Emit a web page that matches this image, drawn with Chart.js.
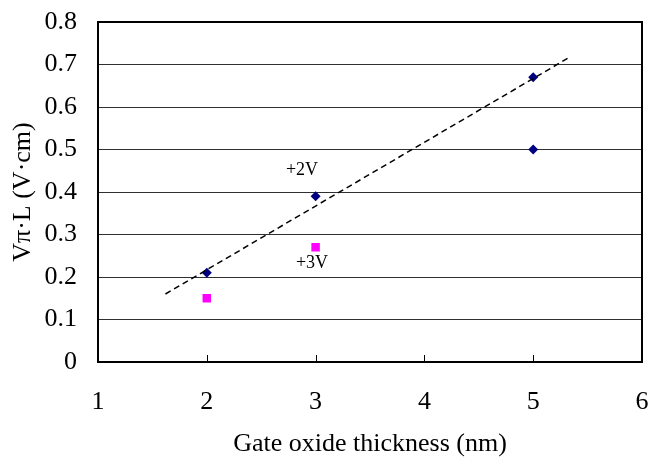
<!DOCTYPE html>
<html><head><meta charset="utf-8">
<script src="https://cdn.jsdelivr.net/npm/chart.js@4.4.1/dist/chart.umd.min.js"></script>
<style>html,body{margin:0;padding:0;background:#fff}#wrap{width:651px;height:457px}</style>
</head><body><div id="wrap"><canvas id="c" width="651" height="457"></canvas></div>
<script>
const thicknessA = [2, 3, 5, 5];
const vpiLA = [0.21, 0.39, 0.67, 0.50];
const thicknessB = [2, 3];
const vpiLB = [0.15, 0.27];
const trendX = [1.62, 5.32];
const trendY = [0.16, 0.715];
const xTicks = [1, 2, 3, 4, 5, 6];
const yTicks = [0, 0.1, 0.2, 0.3, 0.4, 0.5, 0.6, 0.7, 0.8];
const notes = [{text: '+2V', x: 2.875, y: 0.452}, {text: '+3V', x: 2.967, y: 0.233}];

const serif = "'Liberation Serif','Times New Roman',serif";
const toPts = (xs, ys) => xs.map((x, i) => ({x, y: ys[i]}));

const frame = {
  id: 'frame',
  afterDatasetsDraw(chart) {
    const {ctx, chartArea: a, scales} = chart;
    ctx.save();
    ctx.strokeStyle = '#000';
    ctx.lineWidth = 1;
    ctx.beginPath();
    xTicks.slice(1, -1).forEach(v => {
      const px = Math.round(scales.x.getPixelForValue(v)) + 0.5;
      ctx.moveTo(px, a.bottom); ctx.lineTo(px, a.bottom - 7);
    });
    ctx.stroke();
    ctx.lineWidth = 2;
    ctx.strokeRect(a.left, a.top, a.right - a.left, a.bottom - a.top);
    ctx.fillStyle = '#000';
    ctx.font = '18px ' + serif;
    ctx.textAlign = 'center';
    ctx.textBaseline = 'middle';
    notes.forEach(n => ctx.fillText(n.text, scales.x.getPixelForValue(n.x), scales.y.getPixelForValue(n.y)));
    ctx.restore();
  }
};

new Chart(document.getElementById('c'), {
  type: 'scatter',
  data: {
    datasets: [
      {data: toPts(trendX, trendY), showLine: true, borderColor: '#000', borderWidth: 1.5, borderDash: [6, 4], pointRadius: 0, fill: false},
      {data: toPts(thicknessA, vpiLA), pointStyle: 'rectRot', pointRadius: 5, backgroundColor: '#000080', borderColor: '#000080', borderWidth: 0},
      {data: toPts(thicknessB, vpiLB), pointStyle: 'rect', pointRadius: 6, backgroundColor: '#FF00FF', borderColor: '#FF00FF', borderWidth: 0}
    ]
  },
  options: {
    responsive: false,
    animation: false,
    events: [],
    layout: {padding: {top: 22, right: 9, left: 0, bottom: 0}},
    plugins: {legend: {display: false}, tooltip: {enabled: false}},
    scales: {
      x: {
        type: 'linear', min: 1, max: 6,
        afterBuildTicks: s => { s.ticks = xTicks.map(v => ({value: v})); },
        afterFit: s => { s.height = 95; s.paddingLeft = 0; s.paddingRight = 0; },
        grid: {display: false, drawTicks: false},
        border: {display: false},
        ticks: {padding: 25, color: '#000', font: {family: serif, size: 26}},
        title: {display: true, text: 'Gate oxide thickness (nm)', color: '#000', font: {family: serif, size: 26}, padding: {top: 4, bottom: -3}}
      },
      y: {
        type: 'linear', min: 0, max: 0.8,
        afterBuildTicks: s => { s.ticks = yTicks.map(v => ({value: v})); },
        afterFit: s => { s.width = 98; s.paddingTop = 0; s.paddingBottom = 0; },
        grid: {color: '#303030', lineWidth: 1, drawTicks: false},
        border: {display: false},
        ticks: {padding: 21, color: '#000', font: {family: serif, size: 26}, callback: v => String(Math.round(v * 10) / 10)},
        title: {display: true, text: 'Vπ·L (V·cm)', color: '#000', font: {family: serif, size: 26}, padding: {top: 8, bottom: 0}}
      }
    }
  },
  plugins: [frame]
});
</script></body></html>
